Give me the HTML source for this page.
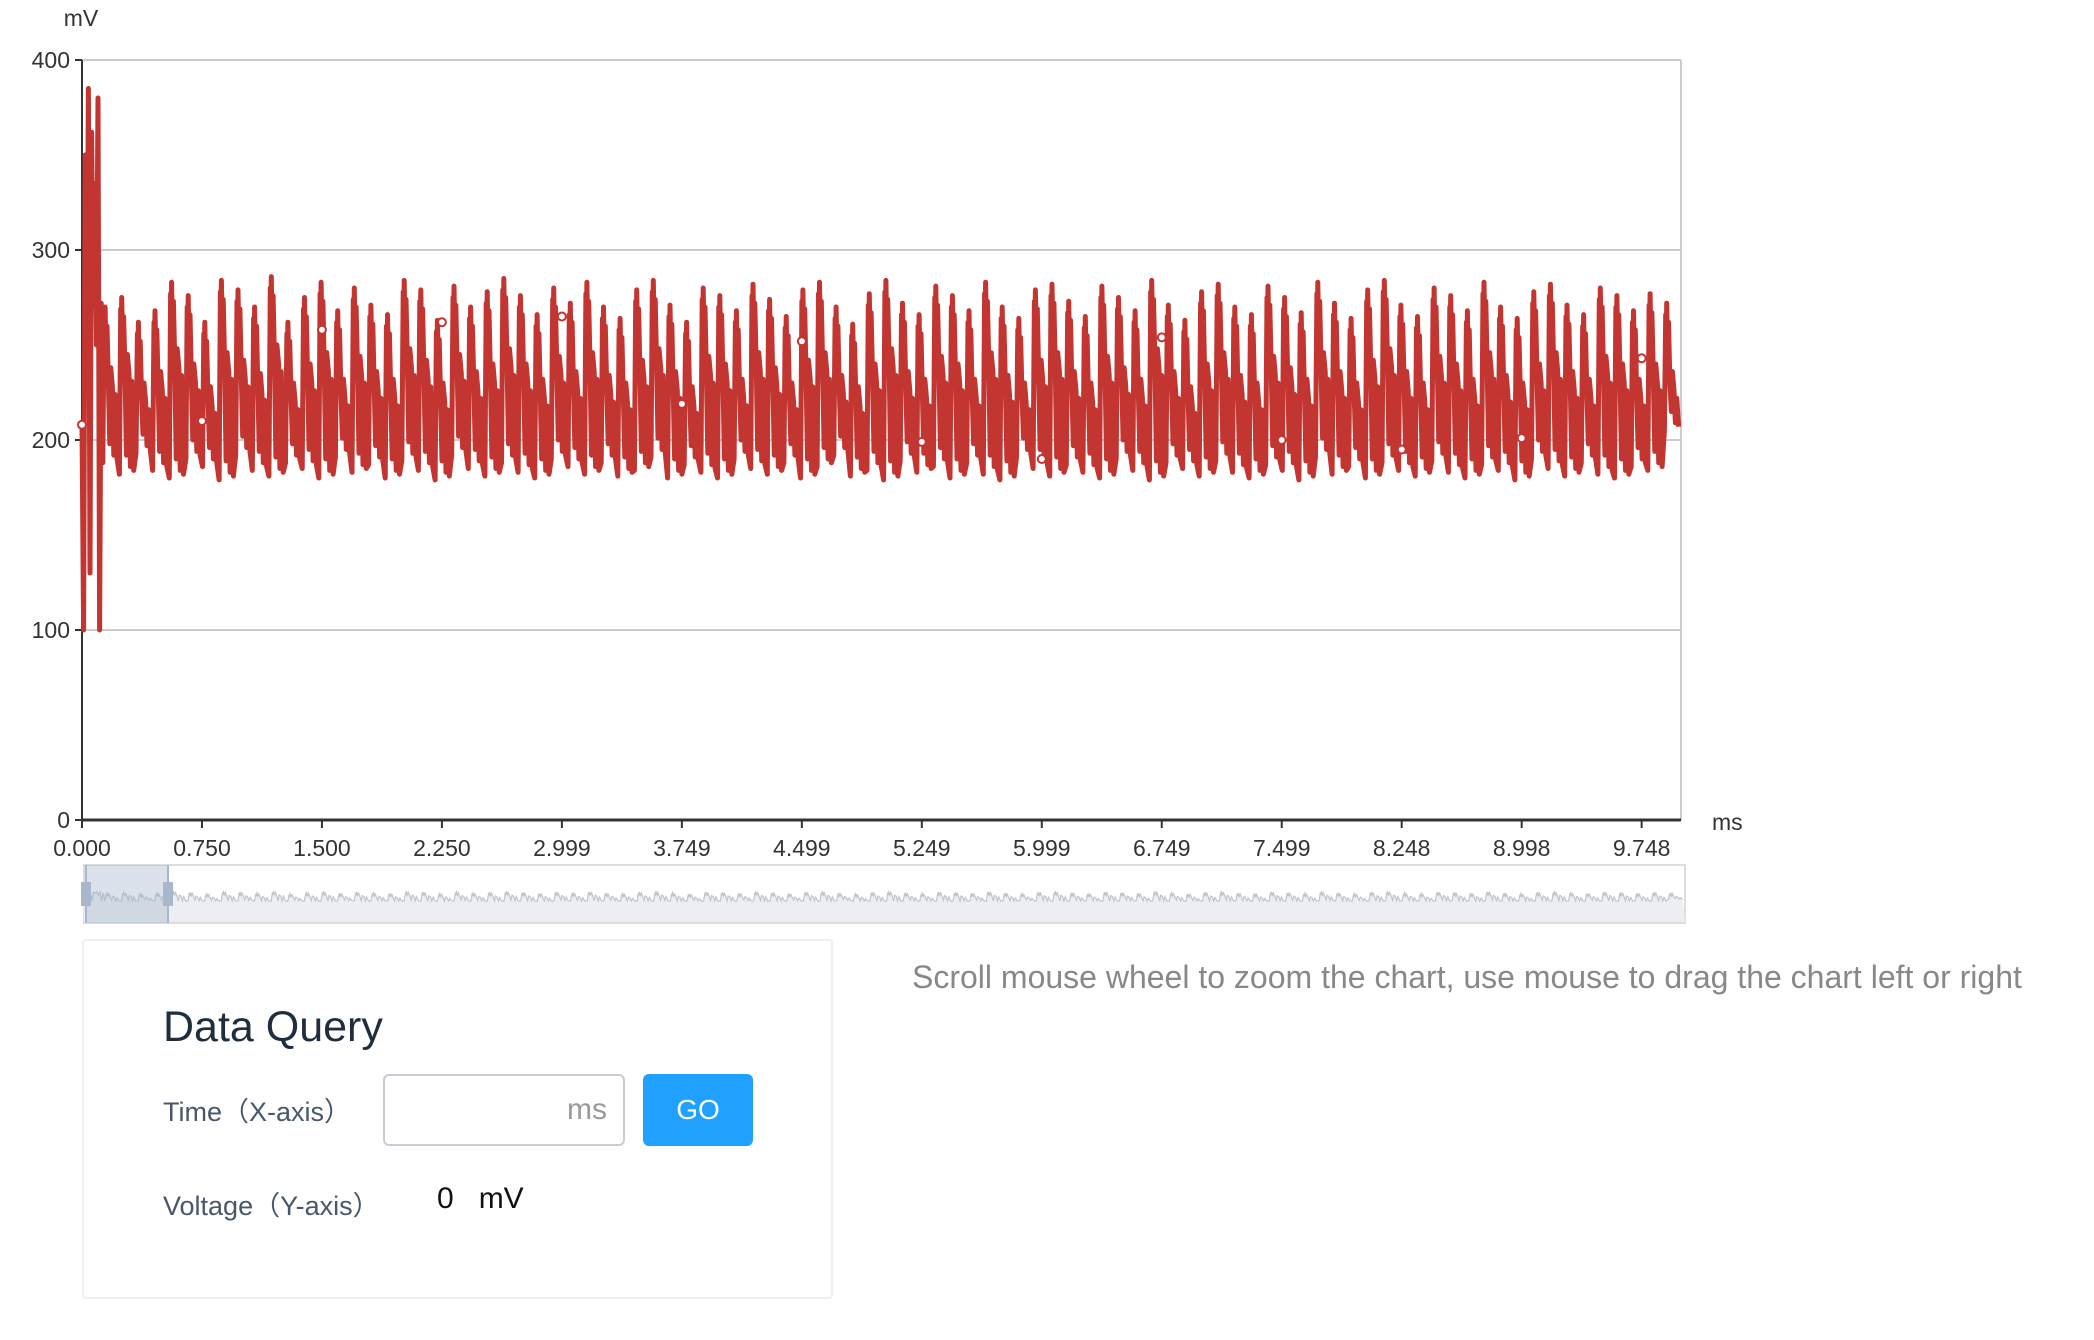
<!DOCTYPE html>
<html><head><meta charset="utf-8"><style>
body{margin:0;width:2094px;height:1340px;background:#fff;overflow:hidden;font-family:"Liberation Sans",sans-serif;position:relative}
#chart{position:absolute;left:0;top:0}
.card{position:absolute;left:82px;top:939px;width:751px;height:360px;border:2px solid #eef0f3;border-radius:4px;box-sizing:border-box}
.title{position:absolute;left:79px;top:62px;font-size:43px;color:#1f2d3d}
.lbl{position:absolute;font-size:27px;color:#48576a}
.inp{position:absolute;left:299px;top:133px;width:242px;height:72px;border:2px solid #c8ccd3;border-radius:6px;box-sizing:border-box;font-size:30px;color:#999;text-align:right;padding-right:16px;line-height:68px}
.go{position:absolute;left:559px;top:133px;width:110px;height:72px;background:#20a0ff;border-radius:6px;color:#fff;font-size:28px;text-align:center;line-height:72px}
.hint{position:absolute;left:912px;top:959px;font-size:32px;color:#888;white-space:nowrap}
</style></head><body>
<svg id="chart" width="2094" height="1340"></svg>
<div class="card">
<div class="title">Data Query</div>
<div class="lbl" style="left:79px;top:149px">Time（X-axis）</div>
<div class="inp">ms</div>
<div class="go">GO</div>
<div class="lbl" style="left:79px;top:243px">Voltage（Y-axis）</div>
<div class="lbl" style="left:353px;top:241px;color:#111;font-size:30px">0&nbsp;&nbsp;&nbsp;mV</div>
</div>
<div class="hint">Scroll mouse wheel to zoom the chart, use mouse to drag the chart left or right</div>
<script>
const xTickLabels=["0.000","0.750","1.500","2.250","2.999","3.749","4.499","5.249","5.999","6.749","7.499","8.248","8.998","9.748"];
const yTicks=[0,100,200,300,400];
const spikeTimes=[0,0.01,0.02,0.03,0.04,0.05,0.06,0.07,0.08,0.09,0.10,0.11,0.12];
const spikeValues=[208,100,350,240,385,130,362,270,335,250,380,100,272];
const peaks=[270,275,262,268,283,276,262,284,279,270,286,262,275,283,268,280,271,266,284,279,263,281,270,278,285,276,266,280,272,283,270,264,279,284,271,262,280,276,268,282,274,265,279,283,270,261,277,284,272,266,281,276,268,283,270,264,279,282,273,265,281,275,268,284,271,263,278,282,270,266,281,275,267,283,272,264,279,284,271,265,280,276,268,283,270,264,278,282,271,266,280,276,268,277,272];
const mids=[238,245,230,236,248,240,228,246,242,235,250,230,240,246,232,244,236,232,248,242,230,245,236,240,248,240,232,244,236,246,234,230,242,248,236,228,244,240,232,246,238,230,242,246,234,228,240,248,236,232,244,240,232,246,234,230,242,246,236,230,244,238,232,248,236,228,240,246,234,230,244,238,232,246,236,230,242,248,236,230,244,240,232,246,234,230,240,246,236,232,244,240,232,240,236];
const troughs=[188,182,193,184,180,190,186,179,192,184,181,188,185,180,191,183,187,180,189,184,179,192,185,181,188,183,180,190,186,182,188,181,184,191,180,187,183,180,190,185,182,188,180,186,192,181,184,179,189,183,186,180,188,182,179,191,185,181,187,183,180,190,184,179,188,185,181,189,183,180,187,184,179,191,182,186,180,188,184,181,189,183,180,187,184,179,190,185,181,188,182,180,186,184,205];
const markerValues=[208,210,258,262,265,219,252,199,190,254,200,195,201,243];
const X0=82,X1=1681,TMAX=9.994,Y0=820,Y1=60,VMAX=400,TICK=0.74985;
const xs=t=>X0+(X1-X0)*t/TMAX, ys=v=>Y0-(Y0-Y1)*v/VMAX;
const svg=document.getElementById('chart'),NS='http://www.w3.org/2000/svg';
function mk(tag,at,txt){const e=document.createElementNS(NS,tag);for(const k in at)e.setAttribute(k,at[k]);if(txt!=null)e.textContent=txt;svg.appendChild(e);return e;}
yTicks.forEach(v=>{
 if(v>0){const g=mk('line',{x1:X0,x2:X1,y1:ys(v),y2:ys(v),stroke:'#ccc','stroke-width':2});
 
 }
 const tl=mk('line',{x1:X0-7,x2:X0,y1:ys(v),y2:ys(v),stroke:'#333','stroke-width':2});
 
 
 const t=mk('text',{x:X0-12,y:ys(v)+8,'text-anchor':'end','font-size':23,fill:'#333'},v);
 
 
});
const rb=mk('line',{x1:X1,x2:X1,y1:Y1,y2:Y0,stroke:'#ccc','stroke-width':2});


const ya=mk('line',{x1:X0,x2:X0,y1:Y1,y2:Y0,stroke:'#333','stroke-width':2});


const xa=mk('line',{x1:X0,x2:X1,y1:Y0,y2:Y0,stroke:'#333','stroke-width':3});


xTickLabels.forEach((l,i)=>{const x=xs(i*TICK);
 const tk=mk('line',{x1:x,x2:x,y1:Y0,y2:Y0+8,stroke:'#333','stroke-width':2});
 
 
 const t=mk('text',{x:x,y:Y0+36,'text-anchor':'middle','font-size':23,fill:'#333'},l);
 
 
});
const yn=mk('text',{x:81,y:26,'text-anchor':'middle','font-size':23,fill:'#333'},'mV');


const xn=mk('text',{x:1712,y:830,'font-size':23,fill:'#333'},'ms');


const pts=[];
spikeTimes.forEach((t,i)=>pts.push([t,spikeValues[i]]));
const tStart=0.13,n=peaks.length,per=(TMAX-tStart)/n;
for(let i=0;i<n;i++){const t=tStart+i*per,p=peaks[i],m=mids[i],q=troughs[i];
 pts.push([t,q]);pts.push([t+per*0.08,p-6]);pts.push([t+per*0.1,m]);pts.push([t+per*0.14,p]);
 pts.push([t+per*0.2,m+4]);pts.push([t+per*0.25,p-10]);pts.push([t+per*0.33,m-6]);
 pts.push([t+per*0.42,q+10]);pts.push([t+per*0.48,m]);pts.push([t+per*0.58,m-10]);
 pts.push([t+per*0.66,q+4]);pts.push([t+per*0.74,m-14]);pts.push([t+per*0.86,q+2]);}
const d=pts.map((p,i)=>(i?'L':'M')+xs(p[0]).toFixed(1)+','+ys(p[1]).toFixed(1)).join('');
const line=mk('path',{d:d,fill:'none',stroke:'#c23531','stroke-width':5,'stroke-linejoin':'round'});


markerValues.forEach((v,i)=>{const c=mk('circle',{cx:xs(i*TICK),cy:ys(v),r:4,fill:'#fff',stroke:'#c23531','stroke-width':2});
 
 });
const SX0=84,SX1=1685,SY0=865,SY1=923;
const sb=mk('rect',{x:SX0,y:SY0,width:SX1-SX0,height:SY1-SY0,fill:'#fff',stroke:'#ddd','stroke-width':2});


const sxs=t=>SX0+(SX1-SX0)*t/TMAX, sys=v=>SY0+32-(v-230)*0.1;
const sd=pts.map((p,i)=>(i?'L':'M')+sxs(p[0]).toFixed(1)+','+sys(Math.min(Math.max(p[1],190),280)).toFixed(1)).join('');
const sa=mk('path',{d:sd+'L'+SX1+','+(SY1-1)+'L'+SX0+','+(SY1-1)+'Z',fill:'#eceef1',stroke:'none'});


const sl=mk('path',{d:sd,fill:'none',stroke:'#c0c4cc','stroke-width':1.2});


const sel=mk('rect',{x:86,y:SY0,width:82,height:SY1-SY0,fill:'rgba(167,183,204,0.4)',stroke:'none'});


[86,168].forEach(x=>{const h=mk('rect',{x:x-5,y:SY0+17,width:10,height:24,fill:'#a7b7cc'});
 
 
 const ln=mk('line',{x1:x,x2:x,y1:SY0,y2:SY1,stroke:'#a7b7cc','stroke-width':2});
 
 });
</script>
</body></html>
